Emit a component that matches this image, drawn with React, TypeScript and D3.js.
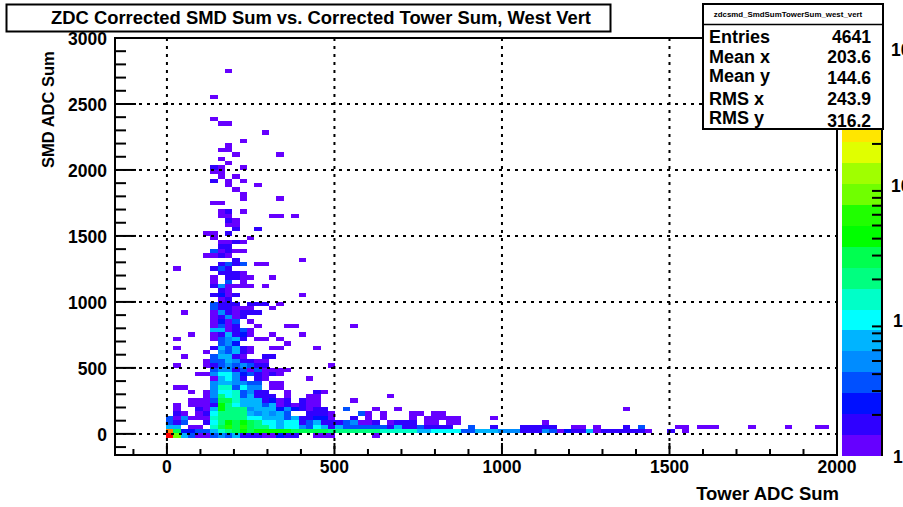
import React from "react";
import * as d3 from "d3";

const titleText = "ZDC Corrected SMD Sum vs. Corrected Tower Sum, West Vert";
const xTitle = "Tower ADC Sum";
const yTitle = "SMD ADC Sum";
const statName = "zdcsmd_SmdSumTowerSum_west_vert";
const statLabels = ["Entries", "Mean x", "Mean y", "RMS x", "RMS y"];
const statValues = ["4641", "203.6", "144.6", "243.9", "316.2"];
const xTicks = [0, 500, 1000, 1500, 2000];
const yTicks = [0, 500, 1000, 1500, 2000, 2500, 3000];
const zLabels = [1, 10, 100, 1000];
const palette = ["#6600ff","#2f00ff","#0010ff","#0050ff","#008cff","#00b4ff","#00ffff","#00ffc8","#00ff80","#00ff50","#00ff00","#20ff00","#70ff00","#a0ff00","#e0ff00","#ffe600","#ffb400","#ff8000","#ff4000","#ff0000"];

// [yBin, [firstXBin, counts...], [firstXBin, counts...], ...]
type Row = (number | number[])[];
const baseRows: Row[] = [
  [0,[0,1000,85,7,3.5,1,1,3.5,5,3.5,7,2,2,2,1,1,2.5,2,2],[20,1,1,1],[28,1]],
  [1,[0,520,30,2.5,2.5,3.5,3.5,7,14,20,30,42,30,42,42,42,42,42,30,30,30,30,30,20,20,20,20,20,20,20,14,14,14,14,14,7,7,10,10,10,10,3.5,3.5,7,7,7,5,5,5,2,2,2,5,3.5,1,2.5,2,2,7,1,2,2,2,2,2,2,1],[68,2],[70,1]],
  [2,[0,7,7],[3,1,1],[6,14,30,60,30,60,30,20,20,10,7,10,10,5,3.5,10,7,2,7,3.5,3.5,3.5,3.5,3.5,3.5,2,7,2,2,3.5,2,2,2,2],[41,3.5],[44,2],[48,2,2,2,2,2],[55,1,1],[58,1],[62,2],[64,3.5],[69,1,1],[72,1,1,1],[79,1],[84,1],[88,1,1]],
  [3,[0,3.5,2,3.5],[5,2,10,20,42,30,42,30,20,10,10,7,10,10,2,3.5,7,2,2,2,3.5,5,1,1,2],[30,1,2,2,2],[35,1,1],[38,1,1],[51,1]],
  [4,[0,3.5,1,5,1,1,1,14,20,20,20,20,10,10,7,7,7,3.5,7,2,2,2.5,2.5,1],[25,2],[27,1],[29,1],[33,1],[35,1,1,1,1,1],[44,1]],
  [5,[1,2,1],[4,1,2,10,20,20,20,20,7,5,7,5,7,3.5],[19,2,2,2,1],[26,3.5,1],[29,1],[33,1,1],[36,1,1]],
  [6,[1,1],[4,2,1,7,42,20,20,20,5,7,7,7,2.5,5,2.5,2,1,2,2],[24,3.5],[28,1],[31,1],[62,1]],
  [7,[1,1],[3,1,1,1,2,42,20,10,7,7,7,3.5,7,1,2,1,2,1,1]],
  [8,[3,1,1,1,3.5,30,30,14,7,7,7,2,2.5,1,2],[18,2,1,1],[25,1]],
  [9,[5,1,5,20,10,14,3.5,7,2,2,2],[16,1],[19,1,1],[30,1]],
  [10,[3,1],[5,1,5,10,10,14,3.5,5,2,2],[16,1],[20,2,1]],
];
const coreRows: Row[] = [
  [11,[1,1,1],[6,5,14,14,3.5,10,5,5],[14,1,1]],
  [12,[6,5,7,7,5,5,3.5,3.5],[14,1,1]],
  [13,[6,1,7,10,5,2],[12,2,1],[19,1]],
  [14,[4,1,1,5,10,10,5,2.5,3.5,2,1,2,1]],
  [15,[6,3.5,5,5,2,3.5,1,3.5,1,1,1,1]],
  [16,[1,1],[5,1,2,3.5,5,3.5,5,3.5,2,2],[22,1]],
  [17,[5,1,3.5,3.5,7,5,2,2,1,1]],
  [18,[2,1],[6,3.5,7,7,2,1],[13,2,2]],
  [19,[5,1],[7,5,3.5,7,2,1]],
  [20,[1,1],[6,2,7,3.5,7,2,1],[14,1,1],[20,1]],
  [21,[7,3.5,5,2.5],[16,1]],
  [22,[1,1],[6,1,3.5,5,7,2],[12,1,1],[15,1]],
  [23,[3,1],[6,1,2,7,2,2.5,1],[14,1],[18,1]],
  [24,[6,7,7,1,2,3.5,1]],
  [25,[6,1,3.5,1,2],[12,1],[16,1,1],[25,1]],
  [26,[6,1,2.5,1,3.5],[11,1]],
  [27,[6,1,2,5,1,2]],
  [28,[2,1],[6,1,5,2,1,2,2,2]],
  [29,[6,3.5,2,2,1,1,1],[14,1]],
  [30,[6,3.5,2,2,2],[11,2,2,2],[15,1]],
  [31,[7,1,2]],
  [32,[6,2,2.5,1,2],[18,1]],
  [33,[7,2,1]],
  [34,[6,2,5,1,1,1,1],[13,1]],
  [35,[6,1],[8,3.5],[10,1]],
];
const plumeRows: Row[] = [
  [36,[6,1],[8,2,2,1,1],[14,1]],
  [37,[7,2,2,2,1]],
  [38,[1,1],[6,2,3.5,2]],
  [39,[7,2,3.5,2,3.5],[12,1,1]],
  [40,[9,2],[18,1]],
  [41,[5,1,1,2,1]],
  [42,[6,3.5,1,2,1,1]],
  [43,[7,2,2]],
  [44,[7,1,1,2,1]],
  [45,[6,1],[11,1]],
  [46,[5,1,1],[8,2]],
  [47,[9,2],[12,2]],
  [48,[8,1,1]],
  [49,[8,2,1]],
  [50,[7,1,1],[14,1,1],[17,1]],
  [51,[7,1,2],[10,1]],
  [53,[6,1,1]],
  [54,[10,1],[15,1]],
  [55,[10,1]],
  [56,[9,1]],
  [57,[8,1],[12,1]],
  [58,[6,2],[8,1],[10,1]],
  [59,[7,1],[9,1]],
  [60,[6,1,1]],
  [61,[6,2,1],[10,1]],
  [62,[8,1]],
  [63,[7,1]],
  [64,[9,1],[15,1]],
  [65,[7,1,1]],
  [66,[8,1]],
  [67,[10,1]],
  [69,[13,1]],
  [71,[7,1,1]],
  [72,[6,1]],
  [77,[6,1]],
  [83,[8,1]],
];

const FONT = "'Liberation Sans', Arial, sans-serif";
const xBinStart = -3, xBinWidth = 22, yBinStart = -30, yBinHeight = 33.3;
const zMax = 1210;

const x = d3.scaleLinear().domain([-155, 2000]).range([115, 837]);
const y = d3.scaleLinear().domain([-160, 3000]).range([455, 38]);
const zAxis = d3.scaleLog().domain([1, zMax]).range([455.7, 38]);
const color = d3.scaleQuantize<string>().domain([0, Math.log10(zMax)]).range(palette);

const cells = [...baseRows, ...coreRows, ...plumeRows].flatMap((r) => {
  const j = r[0] as number;
  return (r.slice(1) as number[][]).flatMap((run) =>
    run.slice(1).map((v, k) => ({ i: run[0] + k, j, v }))
  );
});

const xMinor = d3.range(-100, 2000, 100).filter((v) => v % 500 !== 0);
const yMinor = d3.range(-100, 3000, 100).filter((v) => v % 500 !== 0);
const zMinor = [1, 10, 100].flatMap((d) => d3.range(2, 10).map((m) => m * d)).concat([1000]).filter((v) => v < zMax);

export default function App() {
  const dots = { stroke: "#000", strokeWidth: 2, strokeDasharray: "3 5" };
  return (
    <svg width={903} height={507} style={{ position: "absolute", left: 0, top: 0, background: "#fff" }} fontFamily={FONT} fontWeight="bold">
      {cells.map((c, n) => {
        const x0 = x(xBinStart + c.i * xBinWidth);
        const x1 = x(xBinStart + (c.i + 1) * xBinWidth);
        const yB = y(yBinStart + c.j * yBinHeight);
        const yT = y(yBinStart + (c.j + 1) * yBinHeight);
        return <rect key={n} x={x0} y={yT} width={x1 - x0} height={yB - yT} fill={color(Math.log10(c.v))} shapeRendering="crispEdges" />;
      })}
      {xTicks.slice(0, -1).map((t) => <line key={t} x1={x(t)} x2={x(t)} y1={38} y2={455} {...dots} />)}
      {yTicks.slice(0, -1).map((t) => <line key={t} x1={115} x2={837} y1={y(t)} y2={y(t)} {...dots} />)}
      <rect x={115} y={38} width={722} height={417} fill="none" stroke="#000" strokeWidth={2} />
      {xTicks.map((t) => <line key={t} x1={x(t)} x2={x(t)} y1={455} y2={443} stroke="#000" strokeWidth={2} />)}
      {xMinor.map((t) => <line key={t} x1={x(t)} x2={x(t)} y1={455} y2={449} stroke="#000" strokeWidth={2} />)}
      {yTicks.map((t) => <line key={t} x1={115} x2={136} y1={y(t)} y2={y(t)} stroke="#000" strokeWidth={2} />)}
      {yMinor.map((t) => <line key={t} x1={115} x2={126} y1={y(t)} y2={y(t)} stroke="#000" strokeWidth={2} />)}
      {xTicks.map((t) => <text key={t} x={x(t)} y={473} textAnchor="middle" fontSize={17.5}>{t}</text>)}
      {yTicks.map((t) => <text key={t} x={107} y={y(t) + 7} textAnchor="end" fontSize={17.5}>{t}</text>)}
      <text x={839} y={500} textAnchor="end" fontSize={18.5}>{xTitle}</text>
      <text transform="translate(54,168) rotate(-90)" fontSize={16.5}>{yTitle}</text>

      {palette.map((p, k) => {
        const lo = Math.pow(zMax, k / 20), hi = Math.pow(zMax, (k + 1) / 20);
        return <rect key={p} x={842} y={zAxis(hi)} width={40} height={zAxis(lo) - zAxis(hi)} fill={p} shapeRendering="crispEdges" />;
      })}
      <line x1={882} x2={882} y1={38} y2={456} stroke="#000" strokeWidth={2} />
      {zMinor.map((t) => <line key={t} x1={882} x2={Math.log10(t) % 1 === 0 ? 861 : 872} y1={zAxis(t)} y2={zAxis(t)} stroke="#000" strokeWidth={2} />)}
      {zLabels.map((t) => <text key={t} x={t >= 100 ? 891 : 893} y={zAxis(t) + 7} fontSize={17.5}>{t}</text>)}

      <rect x={6.5} y={4.5} width={604} height={27} fill="#fff" stroke="#000" strokeWidth={2} />
      <text x={321} y={24} textAnchor="middle" fontSize={18.4}>{titleText}</text>

      <rect x={703} y={4} width={180} height={125} fill="#fff" stroke="#000" strokeWidth={2} />
      <line x1={703} x2={883} y1={24.5} y2={24.5} stroke="#000" strokeWidth={1.5} />
      <text x={788} y={17} textAnchor="middle" fontSize={7.9}>{statName}</text>
      {statLabels.map((l, k) => <text key={l} x={709} y={[43, 63, 82, 105, 124][k]} fontSize={18}>{l}</text>)}
      {statValues.map((v, k) => <text key={k} x={871} y={[43, 63, 84, 105, 127][k]} textAnchor="end" fontSize={17.5}>{v}</text>)}
    </svg>
  );
}
